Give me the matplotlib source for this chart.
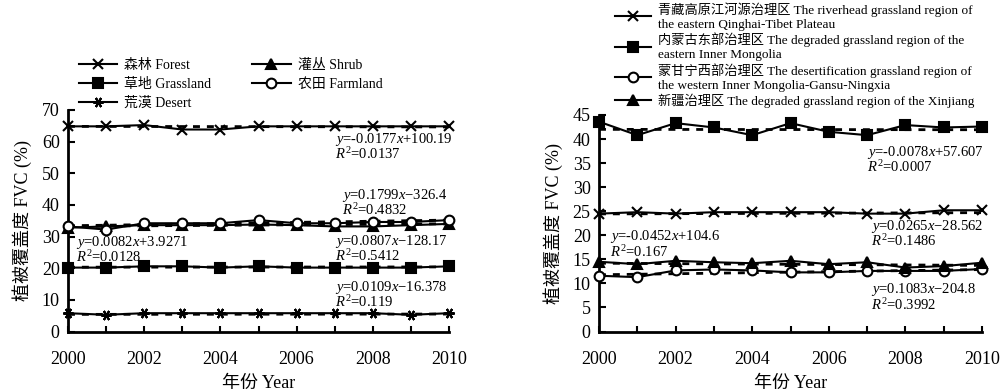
import matplotlib.pyplot as plt

plt.rcParams['font.family'] = ['Liberation Serif', 'Noto Sans CJK SC']
plt.rcParams['mathtext.fontset'] = 'custom'
plt.rcParams['mathtext.it'] = 'Liberation Serif:italic'
plt.rcParams['mathtext.rm'] = 'Liberation Serif'

years = list(range(2000, 2011))

# left panel: land cover types
forest    = [64.8, 64.8, 65.2, 63.8, 63.8, 64.8, 64.8, 64.8, 64.8, 64.8, 64.8]
shrub     = [32.8, 33.2, 33.6, 33.6, 33.6, 33.8, 33.6, 33.2, 33.2, 33.6, 34.0]
grassland = [20.2, 20.2, 20.6, 20.6, 20.2, 20.6, 20.2, 20.2, 20.2, 20.2, 20.6]
farmland  = [33.2, 32.2, 34.2, 34.2, 34.2, 35.2, 34.2, 34.2, 34.6, 34.6, 35.2]
desert    = [5.8, 5.3, 5.8, 5.8, 5.8, 5.8, 5.8, 5.8, 5.8, 5.3, 5.8]

left_labels = ['森林 Forest', '草地 Grassland', '荒漠 Desert', '灌丛 Shrub', '农田 Farmland']
left_series = [forest, grassland, desert, shrub, farmland]
left_markers = ['x', 's', (6, 2, 90), '^', 'o']
# trend line coefficients as printed on the chart (same order as series)
left_slope = [-0.0177, 0.0082, 0.0109, 0.0807, 0.1799]
left_icpt = [100.19, 3.9271, -16.378, -128.17, -326.4]
left_eq = ['$y$=-0.0177$x$+100.19', '$y$=0.0082$x$+3.9271', '$y$=0.0109$x$−16.378',
           '$y$=0.0807$x$−128.17', '$y$=0.1799$x$−326.4']
left_r2 = ['$R^2$=0.0137', '$R^2$=0.0128', '$R^2$=0.119', '$R^2$=0.5412', '$R^2$=0.4832']
left_txt_pos = [(2007.0, 60.5), (2000.2, 28.0), (2007.0, 13.8), (2007.0, 28.3), (2007.2, 43.0)]

# right panel: regions
qinghai  = [24.5, 24.8, 24.5, 24.8, 24.8, 24.8, 24.8, 24.5, 24.5, 25.2, 25.2]
inner_e  = [43.6, 40.8, 43.3, 42.4, 40.8, 43.3, 41.5, 40.8, 42.9, 42.4, 42.6]
inner_w  = [11.6, 11.3, 12.7, 12.9, 12.7, 12.3, 12.3, 12.6, 12.6, 12.6, 13.0]
xinjiang = [14.5, 14.0, 14.7, 14.4, 14.2, 14.7, 14.0, 14.4, 13.3, 13.6, 14.3]

right_labels = ['青藏高原江河源治理区 The riverhead grassland region of\nthe eastern Qinghai-Tibet Plateau',
                '内蒙古东部治理区 The degraded grassland region of the\neastern Inner Mongolia',
                '蒙甘宁西部治理区 The desertification grassland region of\nthe western Inner Mongolia-Gansu-Ningxia',
                '新疆治理区 The degraded grassland region of the Xinjiang']
right_series = [qinghai, inner_e, inner_w, xinjiang]
right_markers = ['x', 's', 'o', '^']
right_slope = [0.0265, -0.0078, 0.1083, -0.0452]
right_icpt = [-28.562, 57.607, -204.8, 104.6]
right_eq = ['$y$=0.0265$x$−28.562', '$y$=-0.0078$x$+57.607', '$y$=0.1083$x$−204.8',
            '$y$=-0.0452$x$+104.6']
right_r2 = ['$R^2$=0.1486', '$R^2$=0.0007', '$R^2$=0.3992', '$R^2$=0.167']
right_txt_pos = [(2007.1, 21.9), (2007.0, 37.3), (2007.1, 8.7), (2000.3, 19.7)]


def draw(ax, series, markers, labels, slope, icpt, eqs, r2s, pos, r2_gap):
    handles = []
    for s, m, lab, a, b in zip(series, markers, labels, slope, icpt):
        fc = 'white' if m == 'o' else 'black'
        ms = 7 if m in ('s', 'o') else 7.5
        h, = ax.plot(years, s, color='black', lw=1.5, marker=m, ms=ms,
                     mfc=fc, mec='black', mew=1.5, label=lab, clip_on=False, zorder=3)
        handles.append(h)
        # linear trend line
        ax.plot([years[0], years[-1]], [a * years[0] + b, a * years[-1] + b],
                color='black', lw=2, ls=(0, (2.5, 2.5)), zorder=2)
    for e, r, (x, y) in zip(eqs, r2s, pos):
        ax.text(x, y, e, fontsize=10.5, va='center', ha='left')
        ax.text(x, y - r2_gap, r, fontsize=10.5, va='center', ha='left')
    ax.set_xlim(2000, 2010)
    ax.set_xticks(years)
    ax.set_xticklabels([str(y) if y % 2 == 0 else '' for y in years])
    ax.tick_params(axis='x', direction='in', length=4, width=1.5, labelsize=13, pad=14)
    ax.tick_params(axis='y', direction='in', length=5, width=1.5, labelsize=13, pad=6)
    for side in ('top', 'right'):
        ax.spines[side].set_visible(False)
    for side in ('left', 'bottom'):
        ax.spines[side].set_linewidth(2)
    ax.set_xlabel('年份 Year', fontsize=13, labelpad=5)
    ax.set_ylabel('植被覆盖度 FVC (%)', fontsize=13, labelpad=7)
    return handles


fig = plt.figure(figsize=(10, 3.91), dpi=100)
ax1 = fig.add_axes([0.068, 0.152, 0.381, 0.567])
ax2 = fig.add_axes([0.599, 0.152, 0.383, 0.554])
ax1.set_ylim(0, 70)
ax1.set_yticks(range(0, 71, 10))
ax2.set_ylim(0, 45)
ax2.set_yticks(range(0, 46, 5))

h1 = draw(ax1, left_series, left_markers, left_labels, left_slope, left_icpt,
          left_eq, left_r2, left_txt_pos, 4.6)
h2 = draw(ax2, right_series, right_markers, right_labels, right_slope, right_icpt,
          right_eq, right_r2, right_txt_pos, 3.1)

fig.legend(handles=h1, labels=left_labels, ncol=2, loc='upper left',
           bbox_to_anchor=(0.073, 0.864), frameon=False, fontsize=10,
           handlelength=2.8, handletextpad=0.5, columnspacing=2.9,
           labelspacing=0.42, borderaxespad=0)
fig.legend(handles=h2, labels=right_labels, ncol=1, loc='upper left',
           bbox_to_anchor=(0.61, 1.008), frameon=False, fontsize=9.5,
           handlelength=2.7, handletextpad=0.5, labelspacing=0.15,
           borderaxespad=0)

fig.savefig('out.png', dpi=100)
